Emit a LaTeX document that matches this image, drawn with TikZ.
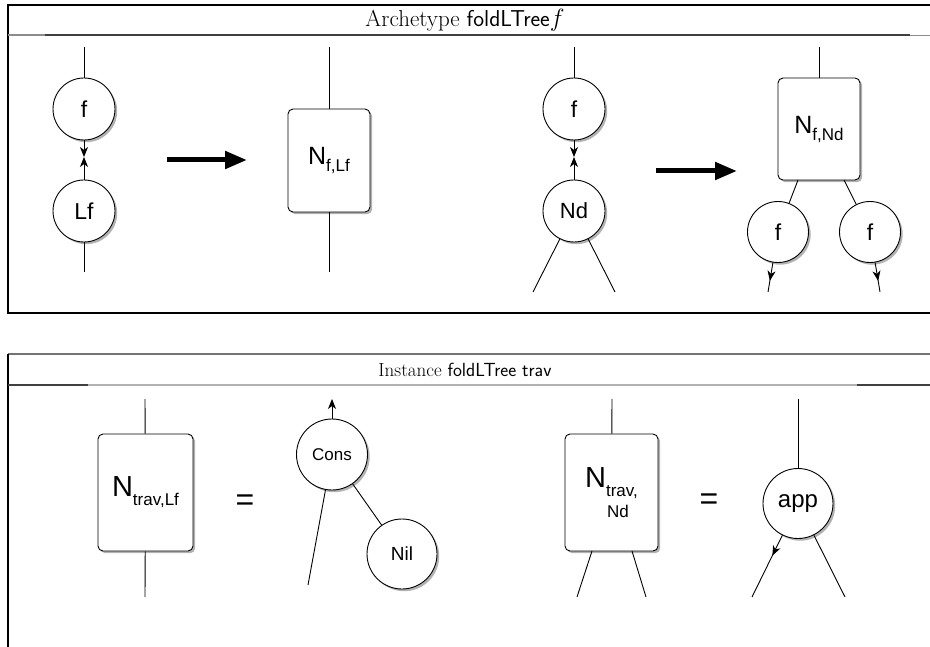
\documentclass[tikz,border=0pt]{standalone}
\usepackage{fontspec}
\newfontfamily\hv{Liberation Sans}
\usetikzlibrary{arrows.meta,shadows,decorations.markings}
\newcommand\fsC{\hv\fontsize{23}{24}\selectfont}
\newcommand\fsS{\hv\fontsize{17}{18}\selectfont}
\newcommand\fsM{\hv\fontsize{19}{20}\selectfont}
\begin{document}
\begin{tikzpicture}[x=1pt,y=-1pt,
  wire/.style={line width=0.9pt},
  tip/.style={-{Stealth[length=10pt,width=8pt,inset=3pt]}},
  bigarrow/.style={line width=5pt,-{Triangle[length=22pt,width=17pt]}},
  sh/.style={drop shadow={shadow xshift=2.2pt,shadow yshift=-2.2pt,opacity=.3,fill=black}},
  circ/.style={circle,draw,line width=0.9pt,fill=white,inner sep=0pt,minimum size=62pt,sh,font=\fsC},
  box/.style={rectangle,rounded corners=5pt,draw,line width=0.9pt,fill=white,inner sep=0pt,sh},
  eqs/.style={font=\hv\fontsize{32}{32}\selectfont,inner sep=0pt},
  frame/.style={line width=1.2pt},
  title/.style={inner sep=0pt},
  midtip/.style={postaction={decorate},decoration={markings,mark=at position #1 with {\arrow{Stealth[length=10pt,width=8pt,inset=3pt]}}}}
]
\useasboundingbox (0,0) rectangle (930,647);

% ---------- top panel frame ----------
\draw[frame] (930,5) -- (8,5) -- (8,313) -- (930,313);
\draw[line width=1.2pt,black!45] (8,35) -- (45,35);
\draw[line width=1.2pt,black!75] (45,35) -- (910,35);
\draw[line width=1.2pt,black!45] (910,35.5) -- (930,35.5);
\node[title,font=\fontsize{23}{25}\selectfont] (t1) at (465,20) {Archetype \textsf{foldLTree}$f$};

% ---------- top left: f / Lf -> N_{f,Lf} ----------
\node[circ] (f1) at (84,109) {f};
\node[circ] (lf) at (84,211) {Lf};
\coordinate (f1top) at (84,47);
\coordinate (m1) at (84,157);
\coordinate (lfbot) at (84,272);
\draw[wire] (f1top) -- (f1);
\draw[wire,tip] (f1) -- (m1);
\draw[wire,tip] (lf) -- (m1);
\draw[wire] (lf) -- (lfbot);

\coordinate (a1s) at (167,160);
\coordinate (a1e) at (247,160);
\draw[bigarrow] (a1s) -- (a1e);

\node[box,minimum width=82pt,minimum height=103pt] (n1) at (329,160.5)
  {\hv\fontsize{25}{26}\selectfont N\fsS\raisebox{-7pt}{f,Lf}};
\coordinate (n1top) at (329,47);
\coordinate (n1bot) at (329,272);
\draw[wire] (n1top) -- (n1);
\draw[wire] (n1) -- (n1bot);

% ---------- top right: f / Nd -> N_{f,Nd} ----------
\node[circ] (f2) at (574,109) {f};
\node[circ,font=\hv\fontsize{22}{23}\selectfont] (nd) at (574,211) {Nd};
\coordinate (f2top) at (574,47);
\coordinate (m2) at (574,157);
\coordinate (ndl) at (533,292);
\coordinate (ndr) at (615,292);
\draw[wire] (f2top) -- (f2);
\draw[wire,tip] (f2) -- (m2);
\draw[wire,tip] (nd) -- (m2);
\draw[wire] (nd) -- (ndl);
\draw[wire] (nd) -- (ndr);

\coordinate (a2s) at (656,171);
\coordinate (a2e) at (737,171);
\draw[bigarrow] (a2s) -- (a2e);

\node[box,minimum width=82pt,minimum height=102pt] (n2) at (819,129)
  {\hv\fontsize{25}{26}\selectfont N\fsS\raisebox{-7pt}{f,Nd}};
\coordinate (n2top) at (819,47);
\draw[wire] (n2top) -- (n2);
\node[circ,minimum size=61pt] (f3) at (778,232) {f};
\node[circ,minimum size=61pt] (f4) at (870,232) {f};
\coordinate (n2bl) at (798,180);
\coordinate (n2br) at (844,180);
\draw[wire] (n2bl) -- (f3);
\draw[wire] (n2br) -- (f4);
\coordinate (f3e) at (768,292);
\coordinate (f4e) at (880,292);
\draw[wire,midtip=0.62] (f3) -- (f3e);
\draw[wire,midtip=0.62] (f4) -- (f4e);

% ---------- bottom panel frame ----------
\draw[line width=1.6pt,black!55] (8,354) -- (930,354);
\draw[frame] (8,354) -- (8,647);
\draw[line width=1.2pt,black!75] (8,385) -- (88,385);
\draw[line width=1.2pt,black!30] (88,385) -- (857,385);
\draw[line width=1.2pt,black!75] (857,385) -- (930,385);
\node[title,font=\fontsize{19}{21}\selectfont] (t2) at (465,369.5) {Instance \textsf{foldLTree trav}};

% ---------- bottom left: N_{trav,Lf} = Cons/Nil ----------
\node[box,minimum width=95pt,minimum height=117pt] (n3) at (145.5,492.5)
  {\hv\fontsize{29}{30}\selectfont N\fsS\raisebox{-9pt}{trav,Lf}};
\coordinate (n3top) at (145,399);
\coordinate (n3bot) at (145,597);
\draw[wire] (n3top) -- (n3);
\draw[wire] (n3) -- (n3bot);

\node[eqs] (eq1) at (245,503) {=};

\node[circ,minimum size=71pt,font=\hv\fontsize{17}{18}\selectfont] (cons) at (332,454.5) {Cons};
\coordinate (constop) at (332,399);
\coordinate (consl) at (308,585);
\draw[wire,tip] (cons) -- (constop);
\draw[wire] (cons) -- (consl);
\node[circ,minimum size=70pt,font=\fsM] (nil) at (402,554) {Nil};
\draw[wire] (cons) -- (nil);

% ---------- bottom right: N_{trav,Nd} = app ----------
\node[box,minimum width=93pt,minimum height=117pt,align=left] (n4) at (611.5,492.5)
  {\hv\fontsize{29}{30}\selectfont N\fsS\raisebox{-9pt}{trav,}\\[6pt]\hspace*{22pt}\hv\fontsize{17}{18}\selectfont Nd};
\coordinate (n4top) at (612,399);
\coordinate (n4bl) at (592,551);
\coordinate (n4br) at (632,551);
\coordinate (n4le) at (577,597);
\coordinate (n4re) at (646,597);
\draw[wire] (n4top) -- (n4);
\draw[wire] (n4bl) -- (n4le);
\draw[wire] (n4br) -- (n4re);

\node[eqs] (eq2) at (709,502) {=};

\node[circ,minimum size=70pt,font=\hv\fontsize{24}{25}\selectfont] (app) at (798,503.5) {app};
\coordinate (apptop) at (798,399);
\coordinate (appl) at (752,597);
\coordinate (appr) at (845,597);
\draw[wire] (apptop) -- (app);
\draw[wire,midtip=0.33] (app) -- (appl);
\draw[wire] (app) -- (appr);
\end{tikzpicture}
\end{document}
